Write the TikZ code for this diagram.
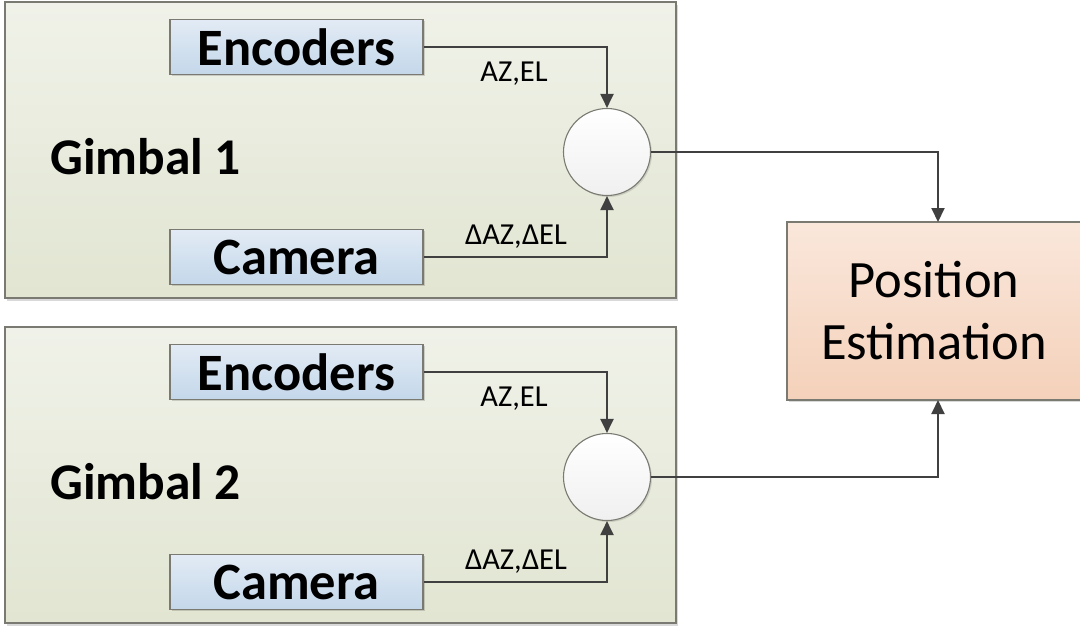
\documentclass[tikz,border=0pt]{standalone}
\usepackage{fontspec}
\setmainfont{Carlito}
\usetikzlibrary{arrows.meta,shadows,positioning}

\definecolor{linegray}{HTML}{404040}
\definecolor{edgegray}{HTML}{7A7A72}
\definecolor{panelTop}{HTML}{F0F2E9}
\definecolor{panelBot}{HTML}{E1E5D1}
\definecolor{blueTop}{HTML}{E2EBF5}
\definecolor{blueBot}{HTML}{C4D7EA}
\definecolor{peachTop}{HTML}{FAE7DB}
\definecolor{peachBot}{HTML}{F4D1BA}

\tikzset{
  px/.style={x=1pt,y=-1pt},
  panel/.style={draw=edgegray, line width=1.5pt, top color=panelTop, bottom color=panelBot,
    drop shadow={shadow xshift=2pt, shadow yshift=-3pt, fill=black, opacity=0.15}},
  unitbox/.style={draw=edgegray, line width=1.2pt, top color=blueTop, bottom color=blueBot,
    inner sep=0pt, minimum width=253pt, minimum height=55pt,
    font=\fontsize{52.5}{56}\selectfont\bfseries,
    drop shadow={shadow xshift=1.5pt, shadow yshift=-1.5pt, fill=black, opacity=0.15}},
  sumnode/.style={circle, draw=edgegray, line width=1.1pt, top color=white, bottom color=black!6,
    minimum size=87pt, inner sep=0pt,
    drop shadow={shadow xshift=1.5pt, shadow yshift=-1.5pt, fill=black, opacity=0.12}},
  estbox/.style={draw=edgegray, line width=1.2pt, top color=peachTop, bottom color=peachBot,
    drop shadow={shadow xshift=1.5pt, shadow yshift=-1.5pt, fill=black, opacity=0.15}},
  gimballabel/.style={font=\fontsize{51.5}{56}\selectfont\bfseries, anchor=west, inner sep=0pt},
  sig/.style={draw=linegray, line width=2pt, -{Triangle[length=14pt,width=13pt]}},
  siglabel/.style={font=\fontsize{30.5}{34}\selectfont, inner sep=0pt},
}

\begin{document}
\begin{tikzpicture}[px]
  \useasboundingbox (0,0) rectangle (1080,626);

  % gimbal panels
  \path[panel] (5,2) rectangle (676,298);
  \path[panel] (5,327) rectangle (676,623);

  % estimator block (runs past the right edge)
  \path[estbox] (787,222) rectangle (1090,400);
  \node[font=\fontsize{52.5}{62}\selectfont, align=center] (est) at (934,311)
    {Position\\Estimation};
  \coordinate (estTop) at (938,222);
  \coordinate (estBot) at (938,400);

  % gimbal 1
  \node[gimballabel] (g1) at (50,157) {Gimbal 1};
  \node[unitbox] (enc1) at (296.5,47) {Encoders};
  \node[unitbox] (cam1) at (296.5,257) {Camera};
  \node[sumnode] (sum1) at (607,152) {};

  % gimbal 2
  \node[gimballabel] (g2) at (50,482) {Gimbal 2};
  \node[unitbox] (enc2) at (296.5,372) {Encoders};
  \node[unitbox] (cam2) at (296.5,582) {Camera};
  \node[sumnode] (sum2) at (607,477) {};

  % signal paths
  \draw[sig] (enc1.east) -| (sum1.north);
  \draw[sig] (cam1.east) -| (sum1.south);
  \draw[sig] (enc2.east) -| (sum2.north);
  \draw[sig] (cam2.east) -| (sum2.south);
  \draw[sig] (sum1.east) -| (estTop);
  \draw[sig] (sum2.east) -| (estBot);

  % signal labels
  \node[siglabel] (l1) at (514,74) {AZ,EL};
  \node[siglabel] (l2) at (516,237) {ΔAZ,ΔEL};
  \node[siglabel] (l3) at (514,399) {AZ,EL};
  \node[siglabel] (l4) at (516,562) {ΔAZ,ΔEL};
\end{tikzpicture}
\end{document}
